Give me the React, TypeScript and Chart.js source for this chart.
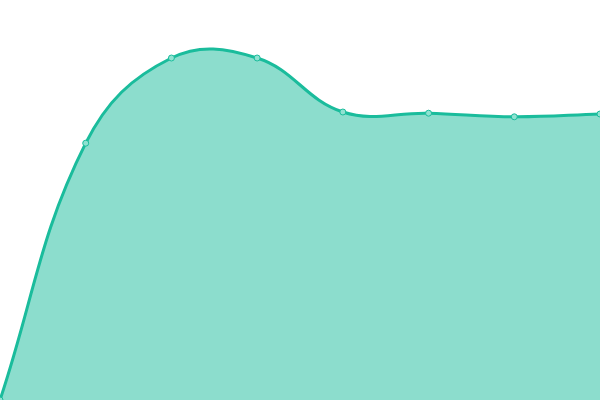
import { useEffect, useRef } from "react";
import Chart from "chart.js/auto";

const labels = ["1", "2", "3", "4", "5", "6", "7", "8"];
const values = [0, 64.2, 85.5, 85.5, 72, 71.7, 70.8, 71.5];

const App = () => {
  const canvasRef = useRef<HTMLCanvasElement>(null);

  useEffect(() => {
    let chart: Chart<"line"> | null = null;
    if (canvasRef.current) {
      chart = new Chart(canvasRef.current, {
        type: "line",
        data: {
          labels,
          datasets: [
            {
              data: values,
              fill: true,
              tension: 0.4,
              borderColor: "#1abc9c",
              backgroundColor: "rgba(26, 188, 156, 0.5)",
              borderWidth: 3,
              pointRadius: 3,
              pointBorderWidth: 1,
              pointBorderColor: "#1abc9c",
              pointBackgroundColor: "#8fe2d1",
            },
          ],
        },
        options: {
          animation: false,
          responsive: true,
          maintainAspectRatio: false,
          layout: { padding: 0, autoPadding: false },
          scales: {
            x: { display: false },
            y: { display: false, min: 0, max: 100 },
          },
          plugins: {
            legend: { display: false },
            tooltip: { enabled: false },
          },
        },
      });
    }
    return () => {
      if (chart) chart.destroy();
    };
  }, []);

  return (
    <div style={{ position: "absolute", left: 0, top: 0, width: 600, height: 400 }}>
      <canvas ref={canvasRef} />
    </div>
  );
};

export default App;
